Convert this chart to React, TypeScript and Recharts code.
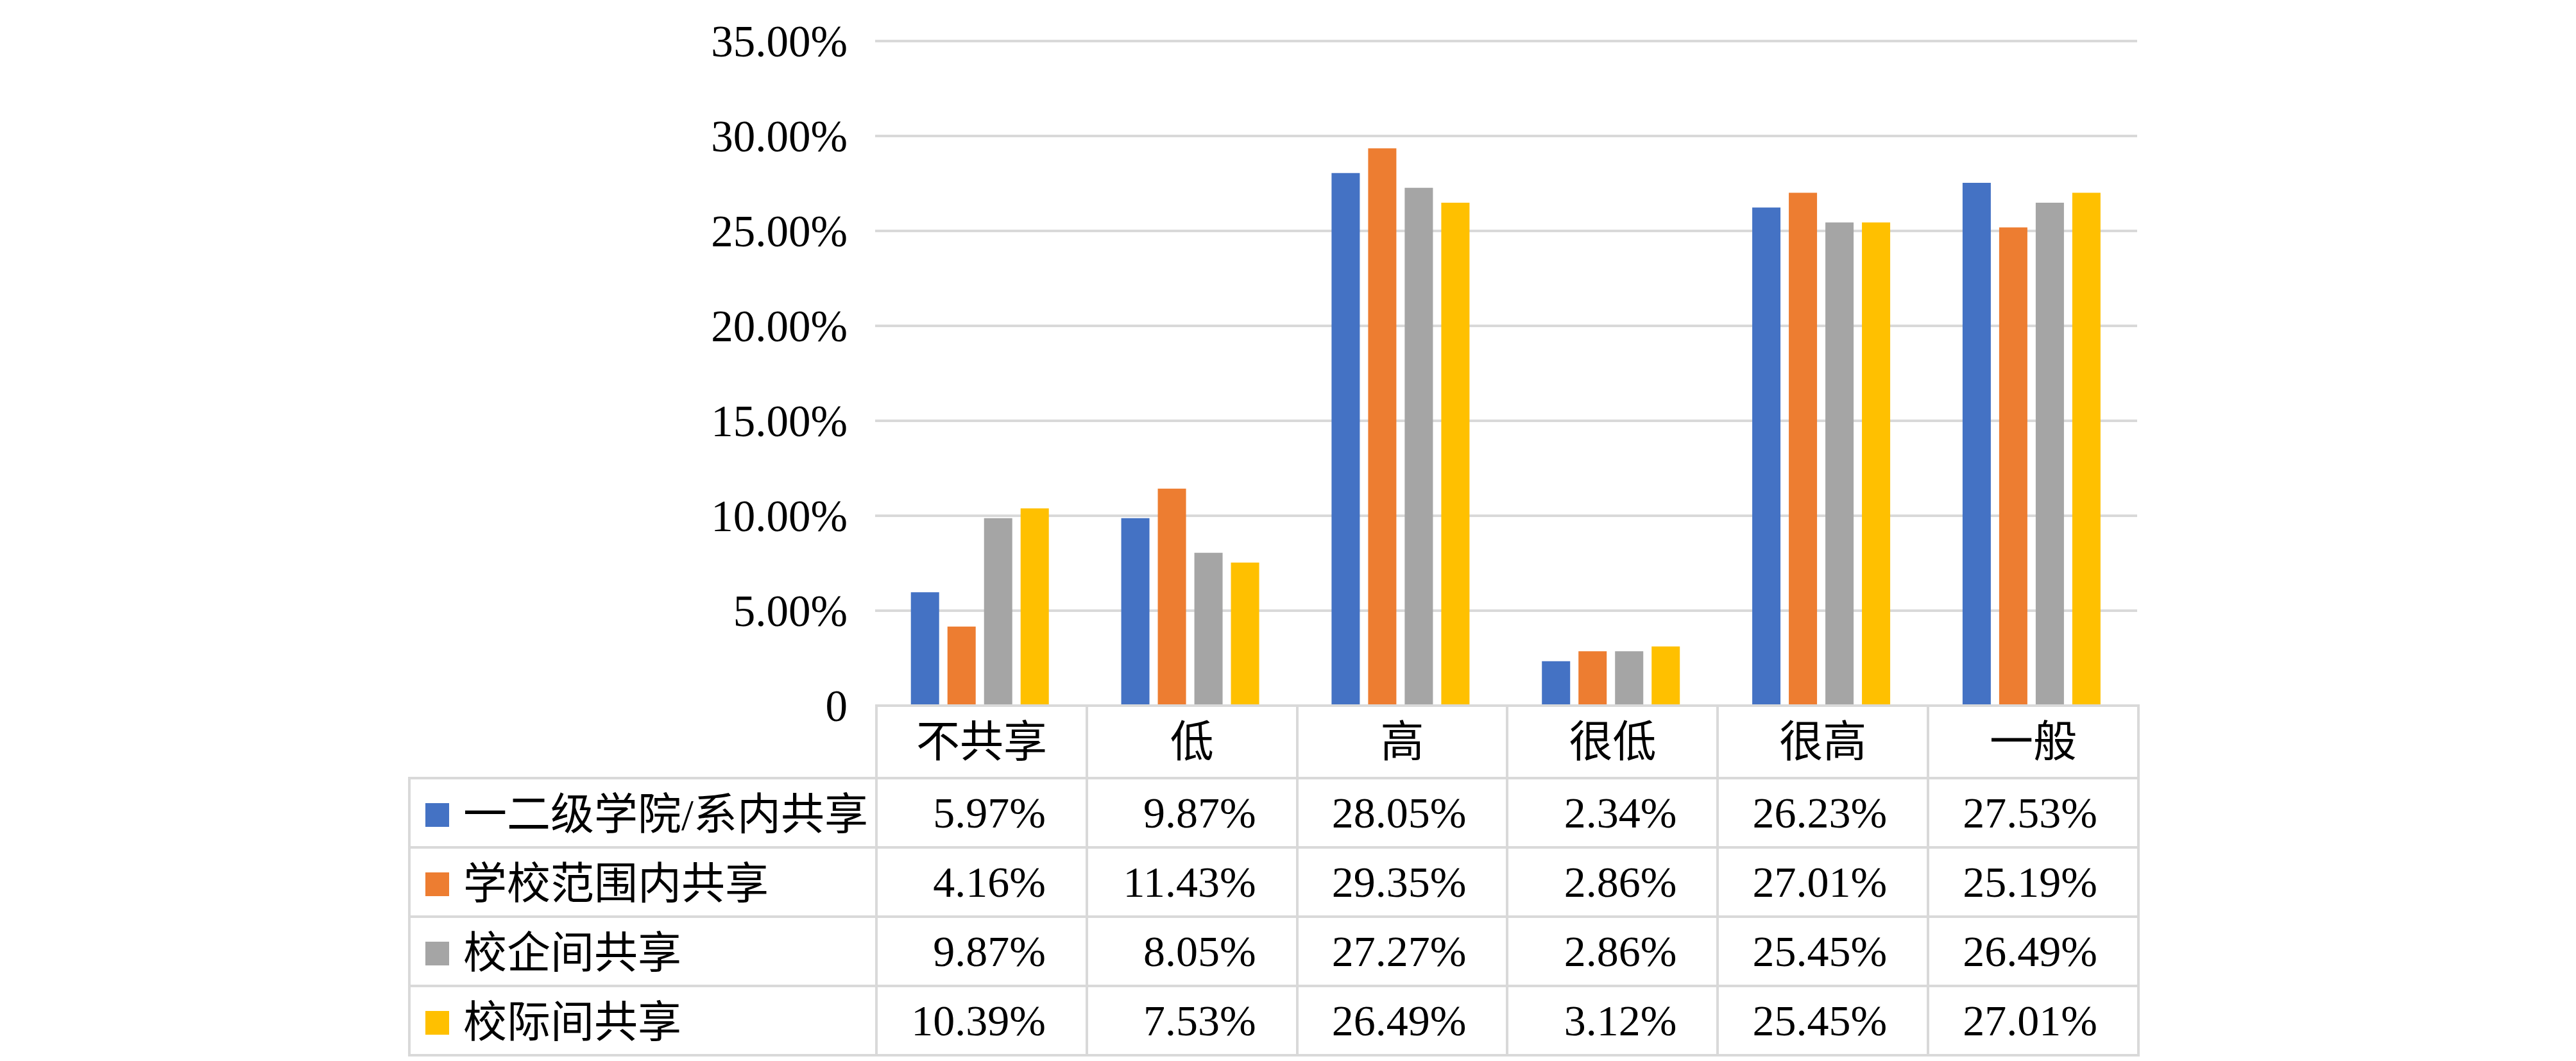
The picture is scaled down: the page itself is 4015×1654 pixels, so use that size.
import { Bar, BarChart, CartesianGrid, XAxis, YAxis } from "recharts";

const categories = ["不共享", "低", "高", "很低", "很高", "一般"];
const seriesNames = ["一二级学院/系内共享", "学校范围内共享", "校企间共享", "校际间共享"];
const seriesColors = ["#4472C4", "#ED7D31", "#A5A5A5", "#FFC000"];
const collegeShare = [5.97, 9.87, 28.05, 2.34, 26.23, 27.53];
const campusShare = [4.16, 11.43, 29.35, 2.86, 27.01, 25.19];
const enterpriseShare = [9.87, 8.05, 27.27, 2.86, 25.45, 26.49];
const interSchoolShare = [10.39, 7.53, 26.49, 3.12, 25.45, 27.01];
const yTicks = [0, 5, 10, 15, 20, 25, 30, 35];

const seriesValues = [collegeShare, campusShare, enterpriseShare, interSchoolShare];

const data = categories.map((label, i) => {
  const row: Record<string, string | number> = { label };
  seriesValues.forEach((values, s) => {
    row[`s${s}`] = values[i];
  });
  return row;
});

// layout, in page pixels
const W = 4015;
const H = 1654;
const PLOT_LEFT = 1364;
const PLOT_RIGHT = 3331;
const PLOT_TOP = 64;
const PLOT_BOTTOM = 1100;
const TABLE_LEFT = 636;
const HEADER_H = 113;
const ROW_H = 108;
const X_AXIS_H = 30;

const FONT = '"Liberation Serif", "Noto Sans CJK SC", serif';
const GRID = "#d9d9d9";

function pct(v: number) {
  return v === 0 ? "0" : `${v.toFixed(2)}%`;
}

const cell: React.CSSProperties = {
  border: `4px solid ${GRID}`,
  padding: 0,
  textAlign: "center",
  verticalAlign: "middle",
  whiteSpace: "nowrap",
  fontSize: 68,
  lineHeight: 1,
};

function DataTable() {
  const colW = (PLOT_RIGHT - PLOT_LEFT) / categories.length;
  return (
    <table
      style={{
        position: "absolute",
        left: TABLE_LEFT,
        top: PLOT_BOTTOM - 2,
        width: PLOT_RIGHT - TABLE_LEFT,
        borderCollapse: "collapse",
        tableLayout: "fixed",
        fontFamily: FONT,
        color: "#000",
      }}
    >
      <colgroup>
        <col style={{ width: PLOT_LEFT - TABLE_LEFT }} />
        {categories.map((c) => (
          <col key={c} style={{ width: colW }} />
        ))}
      </colgroup>
      <tbody>
        <tr style={{ height: HEADER_H }}>
          <td style={{ ...cell, border: "none" }} />
          {categories.map((c) => (
            <td key={c} style={cell}>{c}</td>
          ))}
        </tr>
        {seriesNames.map((name, s) => (
          <tr key={name} style={{ height: ROW_H }}>
            <td style={{ ...cell, textAlign: "left", paddingLeft: 23 }}>
              <span
                style={{
                  display: "inline-block",
                  width: 37,
                  height: 37,
                  background: seriesColors[s],
                  marginRight: 22,
                  verticalAlign: "middle",
                }}
              />
              <span style={{ verticalAlign: "middle" }}>{name}</span>
            </td>
            {seriesValues[s].map((v, i) => (
              <td key={categories[i]} style={{ ...cell, textAlign: "right", paddingRight: 62 }}>{pct(v)}</td>
            ))}
          </tr>
        ))}
      </tbody>
    </table>
  );
}

export default function App() {
  return (
    <div style={{ position: "absolute", left: 0, top: 0, width: W, height: H, background: "#fff" }}>
      <BarChart
        width={W}
        height={H}
        data={data}
        margin={{ top: PLOT_TOP, right: W - PLOT_RIGHT, left: 0, bottom: H - PLOT_BOTTOM - X_AXIS_H }}
        barCategoryGap="17%"
        barGap={13}
      >
        <CartesianGrid vertical={false} stroke={GRID} strokeWidth={4} />
        <XAxis dataKey="label" height={X_AXIS_H} tick={false} tickLine={false} axisLine={{ stroke: GRID, strokeWidth: 4 }} />
        <YAxis
          width={PLOT_LEFT}
          domain={[0, 35]}
          ticks={yTicks}
          interval={0}
          axisLine={false}
          tickLine={false}
          tickSize={6}
          tickMargin={37}
          tickFormatter={pct}
          tick={{ fill: "#000", fontSize: 69, fontFamily: FONT }}
        />
        {seriesNames.map((name, s) => (
          <Bar key={name} dataKey={`s${s}`} name={name} fill={seriesColors[s]} isAnimationActive={false} />
        ))}
      </BarChart>
      <DataTable />
    </div>
  );
}
